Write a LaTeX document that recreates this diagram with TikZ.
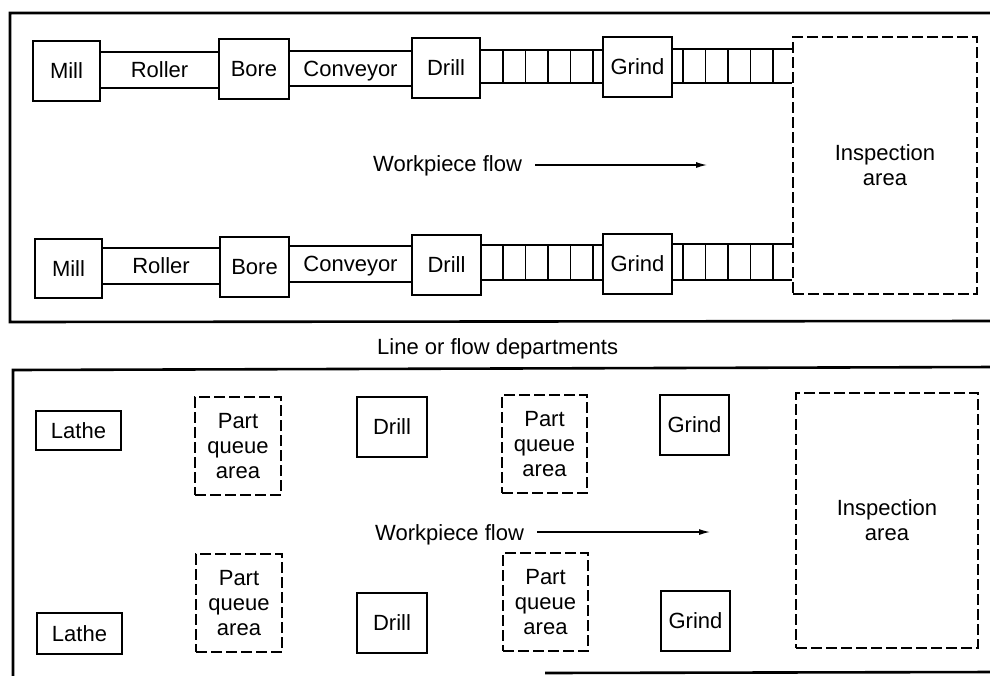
\documentclass[tikz,border=0pt]{standalone}
\usepackage{fontspec}
\setmainfont{Liberation Sans}
\usetikzlibrary{arrows.meta,calc}
\begin{document}
\begin{tikzpicture}[x=1pt,y=-1pt,
  font=\fontsize{22}{25}\selectfont,
  machine/.style={draw,line width=2.4pt,inner sep=0pt,align=center,text height=15.8pt,text depth=0pt},
  band/.style={inner sep=0pt,minimum height=35pt,text height=15.8pt,text depth=0pt},
  bandline/.style={line width=1.8pt},
  rung/.style={line width=1.5pt},
  area/.style={draw,line width=1.2pt,dash pattern=on 11pt off 4pt,inner sep=0pt,align=center},
  frame/.style={line width=2.6pt},
  flowarrow/.style={line width=1.3pt,-{Latex[length=11pt,width=6pt]}}]
\useasboundingbox (0,0) rectangle (990,675);
\clip (0,0) rectangle (990,675);

% frames
\draw[frame] (995,13) -- (10,13) -- (10,322) -- (995,321);
\draw[frame] (995,367) -- (13,370) -- (13,680);
\draw[frame] (545,673) -- (995,672);

% ---------- line departments, row 1 ----------
\node[machine,minimum width=67pt,minimum height=60pt] (mill1) at (66.5,71) {Mill};
\node[machine,minimum width=70pt,minimum height=60pt] (bore1) at (254,69) {Bore};
\node[machine,minimum width=68pt,minimum height=60pt] (drill1) at (446,68) {Drill};
\node[machine,minimum width=69pt,minimum height=60pt] (grind1) at (637.5,67) {Grind};
\node[area,minimum width=184pt,minimum height=257pt] (insp1) at (885,165.5) {Inspection\\area};

\node[band,minimum width=119pt] (roll1) at (159.5,70) {Roller};
\draw[bandline] (mill1.east |- roll1.north) -- (bore1.west |- roll1.north);
\draw[bandline] (mill1.east |- roll1.south) -- (bore1.west |- roll1.south);
\node[band,minimum width=123pt] (conv1) at (350.5,68.5) {Conveyor};
\draw[bandline] (bore1.east |- conv1.north) -- (drill1.west |- conv1.north);
\draw[bandline] (bore1.east |- conv1.south) -- (drill1.west |- conv1.south);

\coordinate (la1t) at (480,50); \coordinate (la1b) at (480,83);
\draw[bandline] (drill1.east |- la1t) -- (grind1.west |- la1t);
\draw[bandline] (drill1.east |- la1b) -- (grind1.west |- la1b);
\foreach \x in {503,525.5,548,570.5,593} \draw[rung] (\x,50) -- (\x,83);
\coordinate (lb1t) at (672,49); \coordinate (lb1b) at (672,83);
\draw[bandline] (grind1.east |- lb1t) -- (insp1.west |- lb1t);
\draw[bandline] (grind1.east |- lb1b) -- (insp1.west |- lb1b);
\foreach \x in {683,705.5,728,750.5,773} \draw[rung] (\x,49) -- (\x,83);

% ---------- row 2 ----------
\node[machine,minimum width=67pt,minimum height=59pt] (mill2) at (68.5,268.5) {Mill};
\node[machine,minimum width=69pt,minimum height=60pt] (bore2) at (254.5,267) {Bore};
\node[machine,minimum width=69pt,minimum height=60pt] (drill2) at (446.5,265) {Drill};
\node[machine,minimum width=69pt,minimum height=60pt] (grind2) at (637.5,264) {Grind};

\node[band,minimum width=118pt] (roll2) at (161,266) {Roller};
\draw[bandline] (mill2.east |- roll2.north) -- (bore2.west |- roll2.north);
\draw[bandline] (mill2.east |- roll2.south) -- (bore2.west |- roll2.south);
\node[band,minimum width=123pt] (conv2) at (350.5,264) {Conveyor};
\draw[bandline] (bore2.east |- conv2.north) -- (drill2.west |- conv2.north);
\draw[bandline] (bore2.east |- conv2.south) -- (drill2.west |- conv2.south);

\coordinate (la2t) at (481,245); \coordinate (la2b) at (481,280);
\draw[bandline] (drill2.east |- la2t) -- (grind2.west |- la2t);
\draw[bandline] (drill2.east |- la2b) -- (grind2.west |- la2b);
\foreach \x in {503,525.5,548,570.5,593} \draw[rung] (\x,245) -- (\x,280);
\coordinate (lb2t) at (672,244); \coordinate (lb2b) at (672,280);
\draw[bandline] (grind2.east |- lb2t) -- (insp1.west |- lb2t);
\draw[bandline] (grind2.east |- lb2b) -- (insp1.west |- lb2b);
\foreach \x in {683,705.5,728,750.5,773} \draw[rung] (\x,244) -- (\x,280);

% flow arrow 1
\node[anchor=base west,inner sep=0pt] (flow1) at (373,171) {Workpiece flow};
\coordinate (fa1) at (707,165);
\draw[flowarrow] ([xshift=13pt]flow1.east |- fa1) -- (fa1);

% caption
\node[anchor=base west,inner sep=0pt] (cap) at (377,354) {Line or flow departments};

% ---------- process departments ----------
\node[machine,minimum width=85pt,minimum height=39pt] (lathe1) at (78.5,430.5) {Lathe};
\node[area,minimum width=86pt,minimum height=98pt] (pq1) at (238,446) {Part\\queue\\area};
\node[machine,minimum width=70pt,minimum height=60pt] (pdrill1) at (392,427) {Drill};
\node[area,minimum width=85pt,minimum height=98pt] (pq2) at (544.5,444) {Part\\queue\\area};
\node[machine,minimum width=69pt,minimum height=60pt] (pgrind1) at (694.5,425) {Grind};
\node[area,minimum width=182pt,minimum height=255pt] (insp2) at (887,520.5) {Inspection\\area};

\node[machine,minimum width=85pt,minimum height=41pt] (lathe2) at (79.5,633.5) {Lathe};
\node[area,minimum width=86pt,minimum height=98pt] (pq3) at (239,603) {Part\\queue\\area};
\node[machine,minimum width=70pt,minimum height=60pt] (pdrill2) at (392,623) {Drill};
\node[area,minimum width=85pt,minimum height=98pt] (pq4) at (545.5,602) {Part\\queue\\area};
\node[machine,minimum width=69pt,minimum height=60pt] (pgrind2) at (695.5,621) {Grind};

\node[anchor=base west,inner sep=0pt] (flow2) at (375,540) {Workpiece flow};
\coordinate (fa2) at (710,532);
\draw[flowarrow] ([xshift=13pt]flow2.east |- fa2) -- (fa2);
\end{tikzpicture}
\end{document}
